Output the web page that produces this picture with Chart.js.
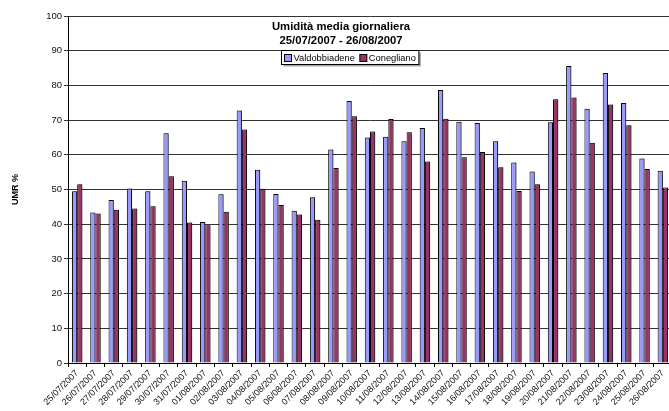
<!DOCTYPE html>
<html>
<head>
<meta charset="utf-8">
<script src="https://cdn.jsdelivr.net/npm/chart.js@4/dist/chart.umd.min.js"></script>
<style>
  html, body { margin: 0; padding: 0; background: #fff; overflow: hidden; }
  #wrap { width: 669px; height: 411px; overflow: hidden; position: relative; }
  canvas { display: block; }
</style>
</head>
<body>
<div id="wrap"><canvas id="c" width="672" height="411"></canvas></div>
<script>
// Daily mean relative humidity, 25/07/2007 - 26/08/2007
const days = [
  '25/07/2007','26/07/2007','27/07/2007','28/07/2007','29/07/2007','30/07/2007','31/07/2007',
  '01/08/2007','02/08/2007','03/08/2007','04/08/2007','05/08/2007','06/08/2007','07/08/2007',
  '08/08/2007','09/08/2007','10/08/2007','11/08/2007','12/08/2007','13/08/2007','14/08/2007',
  '15/08/2007','16/08/2007','17/08/2007','18/08/2007','19/08/2007','20/08/2007','21/08/2007',
  '22/08/2007','23/08/2007','24/08/2007','25/08/2007','26/08/2007'
];
const valdobbiadene = [
  49.5, 43.4, 47.0, 50.3, 49.5, 66.2, 52.5,
  40.6, 48.6, 72.8, 55.7, 48.7, 43.9, 47.8,
  61.5, 75.5, 65.0, 65.2, 63.9, 67.7, 78.7,
  69.5, 69.2, 63.9, 57.8, 55.2, 69.4, 85.6,
  73.3, 83.6, 74.9, 58.9, 55.4
];
const conegliano = [
  51.5, 43.1, 44.2, 44.5, 45.2, 53.8, 40.5,
  39.7, 43.6, 67.3, 50.2, 45.5, 42.8, 41.3,
  56.2, 71.1, 66.7, 70.3, 66.5, 58.1, 70.4,
  59.3, 60.8, 56.4, 49.6, 51.5, 76.0, 76.5,
  63.5, 74.5, 68.5, 55.9, 50.6
];
const seriesNames = ['Valdobbiadene', 'Conegliano'];
const titleLines = ['Umidità media giornaliera', '25/07/2007 - 26/08/2007'];
const yAxisTitle = 'UMR %';
const yMin = 0, yMax = 100, yStep = 10;

const FONT = 'Arial, "Liberation Sans", sans-serif';
const colors = [
  { fill: '#9999FF', border: '#000000' },
  { fill: '#993366', border: '#000000' }
];

// Soft grey drop shadow behind the bars
const barShadow = {
  id: 'barShadow',
  beforeDatasetsDraw(chart) {
    const ctx = chart.ctx;
    ctx.save();
    ctx.shadowColor = 'rgba(0,0,0,0.35)';
    ctx.shadowOffsetX = 2;
    ctx.shadowOffsetY = 0;
    ctx.shadowBlur = 0;
  },
  afterDatasetsDraw(chart) { chart.ctx.restore(); }
};

// Title and boxed legend drawn inside the plot area
const overlay = {
  id: 'overlay',
  afterDraw(chart) {
    const ctx = chart.ctx;
    ctx.save();
    ctx.fillStyle = '#000';
    ctx.textAlign = 'center';
    ctx.textBaseline = 'alphabetic';
    ctx.font = 'bold 11.3px ' + FONT;
    ctx.fillText(titleLines[0], 341, 29.5);
    ctx.fillText(titleLines[1], 341, 44);

    // legend
    ctx.font = '9.3px ' + FONT;
    const marker = 7, gapM = 2, gapItem = 5, padX = 3;
    const widths = chart.data.datasets.map(d => ctx.measureText(d.label).width);
    let boxW = padX * 2;
    widths.forEach((w, i) => { boxW += marker + gapM + w + (i < widths.length - 1 ? gapItem : 0); });
    const boxH = 14;
    const boxX = Math.round(350 - boxW / 2) + 0.5;
    const boxY = 50.5;
    ctx.fillStyle = 'rgba(0,0,0,0.35)';
    ctx.fillRect(boxX + 2, boxY + 2, boxW, boxH);
    ctx.fillStyle = '#fff';
    ctx.fillRect(boxX, boxY, boxW, boxH);
    ctx.strokeStyle = '#000';
    ctx.lineWidth = 1;
    ctx.strokeRect(boxX, boxY, boxW, boxH);
    let x = boxX + padX;
    ctx.textAlign = 'left';
    chart.data.datasets.forEach((d, i) => {
      const my = Math.round(boxY + (boxH - marker) / 2) + 0.5;
      ctx.fillStyle = d.backgroundColor;
      ctx.fillRect(x, my, marker, marker);
      ctx.strokeStyle = '#000';
      ctx.strokeRect(x, my, marker, marker);
      x += marker + gapM;
      ctx.fillStyle = '#000';
      ctx.fillText(d.label, x, boxY + 10.5);
      x += widths[i] + gapItem;
    });
    ctx.restore();
  }
};

new Chart(document.getElementById('c'), {
  type: 'bar',
  data: {
    labels: days,
    datasets: [
      { label: seriesNames[0], data: valdobbiadene, backgroundColor: colors[0].fill, borderColor: colors[0].border, borderWidth: 1 },
      { label: seriesNames[1], data: conegliano, backgroundColor: colors[1].fill, borderColor: colors[1].border, borderWidth: 1 }
    ]
  },
  options: {
    responsive: false,
    animation: false,
    devicePixelRatio: 1,
    layout: { padding: { top: 16, right: 0, bottom: 0, left: 0 } },
    datasets: { bar: { categoryPercentage: 0.57, barPercentage: 1.0 } },
    plugins: {
      legend: { display: false },
      title: { display: false },
      tooltip: { enabled: false }
    },
    scales: {
      x: {
        offset: true,
        grid: { display: true, drawOnChartArea: false, offset: true, drawTicks: true, tickLength: 4, color: '#000' },
        border: { display: true, color: '#000', width: 1 },
        ticks: {
          autoSkip: false, maxRotation: 45, minRotation: 45, padding: 1,
          color: '#111', font: { family: FONT, size: 9 }
        },
        afterFit(scale) { scale.height = 48; scale.paddingLeft = 0; scale.paddingRight = 0; }
      },
      y: {
        min: yMin, max: yMax,
        grid: { color: '#333', lineWidth: 1, tickLength: 4, drawTicks: true },
        border: { display: true, color: '#000', width: 1 },
        ticks: { stepSize: yStep, padding: 2, color: '#111', font: { family: FONT, size: 9.5 } },
        title: { display: true, text: yAxisTitle, color: '#000', font: { family: FONT, size: 9, weight: 'bold' }, padding: { top: 10, bottom: 0 } },
        afterFit(scale) { scale.width = 68; }
      }
    }
  },
  plugins: [barShadow, overlay]
});
</script>
</body>
</html>
